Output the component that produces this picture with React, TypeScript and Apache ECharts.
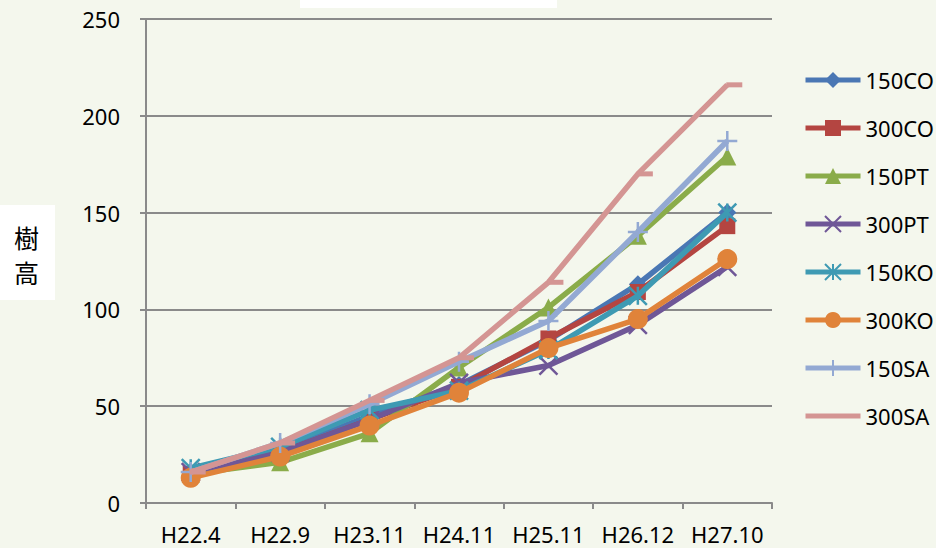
import React, { useEffect, useRef } from "react";
import * as echarts from "echarts";

const categories = ["H22.4", "H22.9", "H23.11", "H24.11", "H25.11", "H26.12", "H27.10"];
const seriesNames = ["150CO", "300CO", "150PT", "300PT", "150KO", "300KO", "150SA", "300SA"];
const v150CO = [16, 27, 45, 61, 84, 113, 150];
const v300CO = [15, 26, 43, 60, 85, 109, 143];
const v150PT = [15, 21, 36, 70, 101, 138, 179];
const v300PT = [16, 26, 43, 62, 71, 92, 122];
const v150KO = [18, 29, 48, 58, 79, 107, 150];
const v300KO = [13, 24, 40, 57, 80, 95, 126];
const v150SA = [16, 31, 51, 73, 94, 140, 187];
const v300SA = [16, 31, 53, 75, 114, 170, 216];
const yTicks = [0, 50, 100, 150, 200, 250];

const values = [v150CO, v300CO, v150PT, v300PT, v150KO, v300KO, v150SA, v300SA];
const colors = ["#4a77b4", "#b44541", "#8aac4a", "#6f5797", "#3e9ab3", "#e0833a", "#93a9d3", "#d49593"];
const symbols = [
  "diamond",
  "rect",
  "triangle",
  "path://M0,0L10,10M10,0L0,10",
  "path://M0,0L10,10M10,0L0,10M5,0L5,10",
  "circle",
  "path://M5,0L5,10M0,5L10,5",
  "rect",
];
const sizes: any[] = [18, 16, 18, 18, 18, 20, 20, [16, 5]];
const offsets: any[] = [[0, 0], [0, 0], [0, 0], [0, 0], [0, 0], [0, 0], [0, 0], [7, 0]];

export default function App() {
  const ref = useRef<HTMLDivElement>(null);
  useEffect(() => {
    const chart = echarts.init(ref.current!, null, { renderer: "svg" });
    const font = "'Noto Sans', 'Open Sans', sans-serif";
    chart.setOption({
      animation: false,
      backgroundColor: "#f4f7ed",
      textStyle: { fontFamily: font },
      grid: { left: 146, right: 164, top: 19, bottom: 45 },
      legend: {
        orient: "vertical",
        left: 798,
        top: 63,
        padding: 5,
        itemWidth: 55,
        itemHeight: 20,
        itemGap: 24,
        data: seriesNames.map((name) =>
          name === "300SA" ? { name, itemStyle: { opacity: 0 } } : { name }
        ),
        lineStyle: { width: 5 },
        textStyle: { fontSize: 22, color: "#000", lineHeight: 24, fontFamily: font },
      },
      xAxis: {
        type: "category",
        data: categories,
        boundaryGap: true,
        axisLine: { show: true, lineStyle: { color: "#8a8a8a", width: 2 } },
        axisTick: { show: true, length: 6, interval: 0, lineStyle: { color: "#8a8a8a", width: 2 } },
        axisLabel: { color: "#000", fontSize: 22, margin: 20, interval: 0, fontFamily: font },
        splitLine: { show: false },
      },
      yAxis: {
        type: "value",
        min: yTicks[0],
        max: yTicks[yTicks.length - 1],
        interval: 50,
        axisLine: { show: true, lineStyle: { color: "#8a8a8a", width: 2 } },
        axisTick: { show: true, length: 6, lineStyle: { color: "#8a8a8a", width: 2 } },
        axisLabel: { color: "#000", fontSize: 22, margin: 26, fontFamily: font },
        splitLine: { show: true, lineStyle: { color: "#8a8a8a", width: 2 } },
      },
      series: seriesNames.map((name, i) => ({
        name,
        type: "line",
        data: values[i],
        symbol: symbols[i],
        symbolSize: sizes[i],
        symbolOffset: offsets[i],
        showSymbol: true,
        lineStyle: { color: colors[i], width: 5.5 },
        itemStyle: { color: colors[i], borderColor: colors[i], borderWidth: i === 3 || i === 4 || i === 6 ? 2.5 : 0 },
        z: 2 + i,
      })),
      graphic: [
        { type: "rect", left: 300, top: 0, shape: { width: 257, height: 8 }, style: { fill: "#ffffff" }, z: 100 },
        { type: "rect", left: 0, top: 205, shape: { width: 55, height: 95 }, style: { fill: "#ffffff" }, z: 100 },
        {
          type: "text",
          left: 14,
          top: 219,
          z: 101,
          style: { text: "樹\n高", fontSize: 25, lineHeight: 35, fill: "#000", fontFamily: "'Noto Sans CJK JP', sans-serif" },
        },
      ],
    });
    return () => chart.dispose();
  }, []);
  return <div ref={ref} style={{ position: "fixed", left: 0, top: 0, width: 936, height: 548 }} />;
}
